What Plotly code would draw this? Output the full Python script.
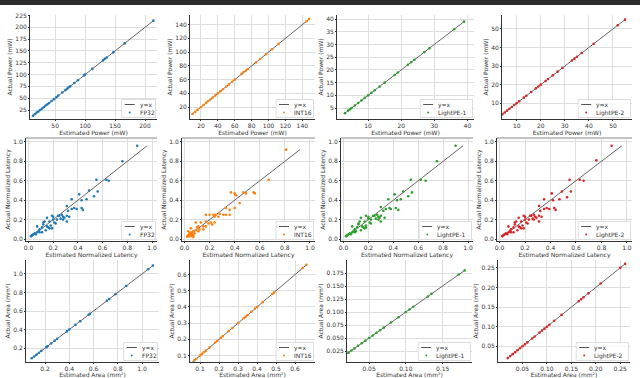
import plotly.graph_objects as go

W, H = 640, 378

models = ["FP32", "INT16", "LightPE-1", "LightPE-2"]
colors = ["#1f77b4", "#ff7f0e", "#2ca02c", "#d62728"]

# ---------- power (mW) ----------
power_est_fp32 = [13, 16, 19, 22, 25, 28, 31, 34, 37, 40, 44, 48, 52, 55, 62,
                  67, 70, 72, 75, 82, 88, 98, 100, 112, 130, 133, 136, 147, 166, 214]
power_act_fp32 = [13, 16, 19.5, 22, 25, 28, 31, 34.5, 37, 40, 44, 48, 52, 55.5, 62,
                  67, 70, 72.5, 75, 82, 88, 98, 100, 112, 130, 133.5, 136, 147, 166, 214]
power_est_int16 = [10, 13, 16, 20, 23, 26, 28, 31, 34, 37, 40, 43, 46, 50, 53,
                   57, 60, 68, 70, 73, 75, 85, 90, 97, 104, 112, 145, 148]
power_act_int16 = [10, 13, 16, 20, 23, 26, 28.5, 31, 34, 37, 40, 43, 46, 50, 53,
                   57, 60, 68, 70.5, 73, 75, 85, 90, 97, 104, 112, 145, 148]
power_est_lpe1 = [3, 4, 4.5, 5, 6, 7, 8, 9, 10, 11, 12, 13.5, 15, 18, 19, 22,
                  23, 24, 27, 28.5, 36, 39]
power_act_lpe1 = [3, 4, 4.5, 5, 6, 7, 8, 9, 10, 11, 12, 13.5, 15, 18, 19, 22,
                  23, 24, 27, 28.5, 36, 39]
power_est_lpe2 = [4, 5, 6, 7, 8, 9, 10, 11, 13, 14, 16, 18, 19, 20, 22, 23, 25,
                  27, 29, 33, 34, 35, 37, 42, 52, 55]
power_act_lpe2 = [4, 5, 6, 7, 8, 9, 10, 11, 13, 14, 16, 18, 19, 20, 22, 23, 25,
                  27, 29, 33, 34, 35, 37, 42, 52, 55]

# ---------- normalized latency ----------
lat_est_fp32 = [0.88, 0.76, 0.63, 0.65, 0.55, 0.56, 0.53, 0.49, 0.47, 0.41,
                0.43, 0.43, 0.44, 0.35, 0.35, 0.37, 0.39, 0.32, 0.31, 0.27,
                0.28, 0.25, 0.24, 0.31, 0.33, 0.23, 0.28, 0.31, 0.20, 0.17,
                0.21, 0.19, 0.20, 0.15, 0.12, 0.15, 0.16, 0.17, 0.19, 0.11,
                0.09, 0.08, 0.07, 0.04, 0.03, 0.05, 0.09, 0.11, 0.12, 0.07,
                0.13, 0.26, 0.29, 0.22, 0.18, 0.14, 0.06, 0.02]
lat_act_fp32 = [0.96, 0.80, 0.61, 0.60, 0.61, 0.49, 0.44, 0.50, 0.41, 0.46,
                0.40, 0.32, 0.30, 0.41, 0.31, 0.32, 0.31, 0.29, 0.34, 0.25,
                0.23, 0.24, 0.24, 0.24, 0.23, 0.20, 0.20, 0.18, 0.20, 0.18,
                0.17, 0.24, 0.23, 0.22, 0.17, 0.13, 0.12, 0.11, 0.11, 0.12,
                0.10, 0.08, 0.07, 0.05, 0.04, 0.06, 0.07, 0.07, 0.15, 0.13,
                0.18, 0.21, 0.22, 0.16, 0.14, 0.09, 0.05, 0.03]
lat_est_int16 = [0.81, 0.67, 0.47, 0.49, 0.55, 0.56, 0.37, 0.40, 0.41, 0.44,
                 0.33, 0.40, 0.36, 0.28, 0.31, 0.33, 0.36, 0.25, 0.23, 0.20,
                 0.17, 0.24, 0.27, 0.17, 0.21, 0.24, 0.13, 0.09, 0.11, 0.15,
                 0.17, 0.12, 0.09, 0.07, 0.05, 0.04, 0.03, 0.05, 0.07, 0.08,
                 0.11, 0.15, 0.05, 0.03, 0.035, 0.02, 0.07, 0.19, 0.22, 0.10,
                 0.06, 0.04]
lat_act_int16 = [0.92, 0.61, 0.48, 0.47, 0.48, 0.47, 0.48, 0.47, 0.45, 0.37,
                 0.32, 0.32, 0.30, 0.26, 0.25, 0.25, 0.25, 0.25, 0.25, 0.25,
                 0.25, 0.23, 0.23, 0.18, 0.17, 0.17, 0.17, 0.17, 0.13, 0.13,
                 0.13, 0.10, 0.09, 0.08, 0.07, 0.05, 0.04, 0.03, 0.04, 0.06,
                 0.08, 0.10, 0.11, 0.08, 0.03, 0.025, 0.02, 0.16, 0.15, 0.12,
                 0.05, 0.06]
lat_est_lpe1 = [0.90, 0.75, 0.62, 0.66, 0.54, 0.55, 0.52, 0.48, 0.46, 0.41,
                0.43, 0.42, 0.44, 0.36, 0.34, 0.37, 0.38, 0.32, 0.30, 0.27,
                0.28, 0.25, 0.24, 0.30, 0.33, 0.22, 0.28, 0.30, 0.20, 0.17,
                0.21, 0.18, 0.20, 0.14, 0.12, 0.15, 0.16, 0.17, 0.18, 0.11,
                0.09, 0.08, 0.07, 0.04, 0.03, 0.05, 0.09, 0.10, 0.12, 0.07,
                0.13, 0.26, 0.29, 0.22, 0.18, 0.14, 0.06, 0.02]
lat_act_lpe1 = [0.96, 0.80, 0.61, 0.60, 0.61, 0.48, 0.44, 0.49, 0.41, 0.46,
                0.40, 0.32, 0.30, 0.41, 0.31, 0.32, 0.31, 0.29, 0.33, 0.25,
                0.23, 0.24, 0.24, 0.24, 0.22, 0.20, 0.20, 0.18, 0.21, 0.18,
                0.17, 0.24, 0.23, 0.22, 0.16, 0.13, 0.12, 0.11, 0.12, 0.12,
                0.10, 0.08, 0.07, 0.05, 0.04, 0.06, 0.07, 0.08, 0.15, 0.13,
                0.18, 0.21, 0.22, 0.16, 0.14, 0.09, 0.05, 0.03]
lat_est_lpe2 = [0.88, 0.76, 0.63, 0.66, 0.55, 0.56, 0.53, 0.49, 0.47, 0.41,
                0.42, 0.43, 0.44, 0.35, 0.35, 0.37, 0.39, 0.32, 0.31, 0.27,
                0.28, 0.25, 0.24, 0.31, 0.33, 0.23, 0.27, 0.31, 0.20, 0.17,
                0.21, 0.19, 0.20, 0.15, 0.12, 0.15, 0.16, 0.17, 0.19, 0.11,
                0.09, 0.08, 0.07, 0.04, 0.03, 0.05, 0.09, 0.11, 0.12, 0.07,
                0.13, 0.26, 0.29, 0.22, 0.18, 0.14, 0.06, 0.02]
lat_act_lpe2 = [0.96, 0.81, 0.61, 0.60, 0.61, 0.49, 0.43, 0.49, 0.41, 0.47,
                0.40, 0.32, 0.30, 0.41, 0.31, 0.32, 0.31, 0.29, 0.34, 0.25,
                0.23, 0.24, 0.24, 0.24, 0.23, 0.20, 0.20, 0.18, 0.20, 0.18,
                0.17, 0.24, 0.23, 0.22, 0.17, 0.13, 0.12, 0.11, 0.11, 0.12,
                0.10, 0.08, 0.07, 0.05, 0.04, 0.06, 0.07, 0.07, 0.15, 0.13,
                0.18, 0.21, 0.22, 0.16, 0.14, 0.09, 0.05, 0.03]

# ---------- area (mm2) ----------
area_est_fp32 = [0.09, 0.11, 0.13, 0.15, 0.17, 0.21, 0.22, 0.25, 0.28, 0.30,
                 0.38, 0.40, 0.45, 0.49, 0.56, 0.57, 0.71, 0.73, 0.78, 0.87, 1.05, 1.09]
area_act_fp32 = [0.09, 0.11, 0.13, 0.15, 0.17, 0.21, 0.22, 0.25, 0.28, 0.30,
                 0.38, 0.40, 0.45, 0.49, 0.56, 0.57, 0.71, 0.73, 0.78, 0.87, 1.05, 1.09]
area_est_int16 = [0.05, 0.07, 0.08, 0.10, 0.11, 0.12, 0.13, 0.15, 0.18, 0.19,
                  0.21, 0.22, 0.25, 0.27, 0.30, 0.33, 0.34, 0.35, 0.37, 0.39,
                  0.40, 0.43, 0.48, 0.49, 0.64, 0.66]
area_act_int16 = [0.05, 0.07, 0.08, 0.10, 0.11, 0.12, 0.13, 0.15, 0.18, 0.19,
                  0.21, 0.22, 0.25, 0.27, 0.30, 0.33, 0.34, 0.35, 0.37, 0.39,
                  0.40, 0.43, 0.48, 0.49, 0.64, 0.66]
area_est_lpe1 = [0.014, 0.018, 0.022, 0.026, 0.030, 0.035, 0.040, 0.045, 0.050,
                 0.055, 0.060, 0.065, 0.070, 0.080, 0.090, 0.100, 0.105, 0.110,
                 0.130, 0.135, 0.172, 0.180]
area_act_lpe1 = [0.014, 0.018, 0.022, 0.026, 0.030, 0.035, 0.040, 0.045, 0.050,
                 0.055, 0.060, 0.065, 0.070, 0.080, 0.090, 0.100, 0.105, 0.110,
                 0.130, 0.135, 0.172, 0.180]
area_est_lpe2 = [0.020, 0.025, 0.030, 0.035, 0.040, 0.045, 0.050, 0.055, 0.060,
                 0.070, 0.075, 0.085, 0.090, 0.095, 0.100, 0.105, 0.115, 0.130,
                 0.165, 0.170, 0.175, 0.185, 0.210, 0.250, 0.260]
area_act_lpe2 = [0.020, 0.025, 0.030, 0.035, 0.040, 0.045, 0.050, 0.055, 0.060,
                 0.070, 0.075, 0.085, 0.090, 0.095, 0.100, 0.105, 0.115, 0.130,
                 0.165, 0.170, 0.175, 0.185, 0.210, 0.250, 0.260]

rows = [
    dict(est=[power_est_fp32, power_est_int16, power_est_lpe1, power_est_lpe2],
         act=[power_act_fp32, power_act_int16, power_act_lpe1, power_act_lpe2],
         xtitle="Estimated Power (mW)", ytitle="Actual Power (mW)"),
    dict(est=[lat_est_fp32, lat_est_int16, lat_est_lpe1, lat_est_lpe2],
         act=[lat_act_fp32, lat_act_int16, lat_act_lpe1, lat_act_lpe2],
         xtitle="Estimated Normalized Latency", ytitle="Actual Normalized Latency"),
    dict(est=[area_est_fp32, area_est_int16, area_est_lpe1, area_est_lpe2],
         act=[area_act_fp32, area_act_int16, area_act_lpe1, area_act_lpe2],
         xtitle="Estimated Area (mm²)", ytitle="Actual Area (mm²)"),
]

# per panel axis setup: x range, y range, x ticks, y ticks, tick formats
axes_cfg = [
    [dict(xr=[8, 220], yr=[6, 226], xt=[50, 100, 150, 200], yt=list(range(25, 226, 25)), xf="d", yf="d"),
     dict(xr=[7, 155], yr=[2.7, 154], xt=list(range(20, 141, 20)), yt=list(range(20, 141, 20)), xf="d", yf="d"),
     dict(xr=[0.6, 42], yr=[0.7, 41.6], xt=[10, 20, 30, 40], yt=list(range(5, 41, 5)), xf="d", yf="d"),
     dict(xr=[3.9, 57.9], yr=[1.5, 57.5], xt=[10, 20, 30, 40, 50], yt=[10, 20, 30, 40, 50], xf="d", yf="d")],
    [dict(xr=[-0.02, 1.04], yr=[-0.02, 1.04], xt=[0, .2, .4, .6, .8, 1], yt=[0, .2, .4, .6, .8, 1], xf=".1f", yf=".1f")] * 4,
    [dict(xr=[0.043, 1.14], yr=[0.05, 1.15], xt=[.2, .4, .6, .8, 1], yt=[.2, .4, .6, .8, 1], xf=".1f", yf=".1f"),
     dict(xr=[0.047, 0.705], yr=[0.06, 0.69], xt=[.1, .2, .3, .4, .5, .6], yt=[.1, .2, .3, .4, .5, .6], xf=".1f", yf=".1f"),
     dict(xr=[0.02, 0.19], yr=[0.004, 0.2], xt=[.05, .1, .15], yt=[.025, .05, .075, .1, .125, .15, .175], xf=".2f", yf=".3f"),
     dict(xr=[0.0, 0.27], yr=[0.01, 0.27], xt=[.05, .1, .15, .2, .25], yt=[.05, .1, .15, .2, .25], xf=".2f", yf=".2f")],
]

# plot area boxes in pixels: left, right, top, bottom
boxes = [
    [(30, 157, 15, 119), (190, 315, 15, 119), (337, 474, 15, 119), (502, 632, 15, 119)],
    [(26, 157, 138, 241), (182, 315, 138, 241), (341, 473, 138, 241), (497, 632, 138, 241)],
    [(26, 159, 260, 362), (190, 315, 260, 362), (347, 472, 260, 362), (498, 630, 260, 362)],
]

FONT = "DejaVu Sans"
TXT = "#333333"
LINE_C = "#555555"

fig = go.Figure()
layout = {}
shapes = []
annotations = []

k = 0
for r, row in enumerate(rows):
    for c in range(4):
        k += 1
        sx = "" if k == 1 else str(k)
        cfg = axes_cfg[r][c]
        l, rr, t, b = boxes[r][c]
        est = row["est"][c]
        act = row["act"][c]
        lo = min(min(est), min(act))
        hi = max(max(est), max(act))

        fig.add_trace(go.Scatter(x=[lo, hi], y=[lo, hi], mode="lines",
                                 line=dict(color=LINE_C, width=0.9),
                                 xaxis="x" + sx, yaxis="y" + sx, showlegend=False,
                                 hoverinfo="skip"))
        fig.add_trace(go.Scatter(x=est, y=act, mode="markers",
                                 marker=dict(color=colors[c], size=2.6, line=dict(width=0)),
                                 name=models[c], xaxis="x" + sx, yaxis="y" + sx,
                                 showlegend=False))

        common = dict(showgrid=True, gridcolor="#dddddd", gridwidth=1, zeroline=False,
                      showline=True, linecolor=TXT, linewidth=1, ticks="outside",
                      ticklen=1, tickwidth=1, tickcolor=TXT,
                      tickfont=dict(size=6, color=TXT, family=FONT),
                      automargin=False)
        layout["xaxis" + sx] = dict(common, domain=[l / W, rr / W], range=cfg["xr"],
                                    tickvals=cfg["xt"], tickformat=cfg["xf"],
                                    anchor="y" + sx,
                                    title=dict(text=row["xtitle"], standoff=0,
                                               font=dict(size=6, color=TXT, family=FONT)))
        layout["yaxis" + sx] = dict(common, domain=[1 - b / H, 1 - t / H], range=cfg["yr"],
                                    tickvals=cfg["yt"], tickformat=cfg["yf"],
                                    anchor="x" + sx,
                                    title=dict(text=row["ytitle"], standoff=2,
                                               font=dict(size=6, color=TXT, family=FONT)))

        pw, ph = rr - l, b - t
        xref = "x" + sx + " domain"
        yref = "y" + sx + " domain"

        # latency row has a light grey frame line on top
        if r == 1:
            shapes.append(dict(type="line", xref=xref, yref=yref, x0=0, x1=1, y0=1, y1=1,
                               line=dict(color="#c4c4c4", width=2)))

        # small legend box in lower right corner of each panel
        bw = 19 + 3.7 * len(models[c])
        bx1 = pw - 1.5
        bx0 = bx1 - bw
        by0 = 1.5
        by1 = 19.5
        shapes.append(dict(type="rect", xref=xref, yref=yref,
                           x0=bx0 / pw, x1=bx1 / pw, y0=by0 / ph, y1=by1 / ph,
                           line=dict(color="#dddddd", width=1), fillcolor="rgba(255,255,255,0.85)"))
        shapes.append(dict(type="line", xref=xref, yref=yref,
                           x0=(bx0 + 3) / pw, x1=(bx0 + 13) / pw,
                           y0=(by1 - 5) / ph, y1=(by1 - 5) / ph,
                           line=dict(color=LINE_C, width=1)))
        shapes.append(dict(type="circle", xref=xref, yref=yref,
                           x0=(bx0 + 7) / pw, x1=(bx0 + 9) / pw,
                           y0=(by0 + 4) / ph, y1=(by0 + 6) / ph,
                           line=dict(width=0), fillcolor=colors[c]))
        annotations.append(dict(text="y=x", xref=xref, yref=yref,
                                x=(bx0 + 16) / pw, y=(by1 - 5) / ph,
                                xanchor="left", yanchor="middle", showarrow=False,
                                font=dict(size=6, color=TXT, family=FONT)))
        annotations.append(dict(text=models[c], xref=xref, yref=yref,
                                x=(bx0 + 16) / pw, y=(by0 + 5) / ph,
                                xanchor="left", yanchor="middle", showarrow=False,
                                font=dict(size=6, color=TXT, family=FONT)))

# dark strip along the top edge
shapes.append(dict(type="rect", xref="paper", yref="paper", x0=0, x1=1,
                   y0=1 - 5 / H, y1=1, line=dict(width=0), fillcolor="#2b2b2b",
                   layer="above"))

fig.update_layout(layout)
fig.update_layout(width=W, height=H, margin=dict(l=0, r=0, t=0, b=0),
                  plot_bgcolor="white", paper_bgcolor="white",
                  font=dict(family=FONT, color=TXT), showlegend=False,
                  shapes=shapes, annotations=annotations)

# drop the default page margin so the figure sits at the window corner
fig.write_html("out.html", config={"displayModeBar": False},
               post_script="document.body.style.margin='0';")
